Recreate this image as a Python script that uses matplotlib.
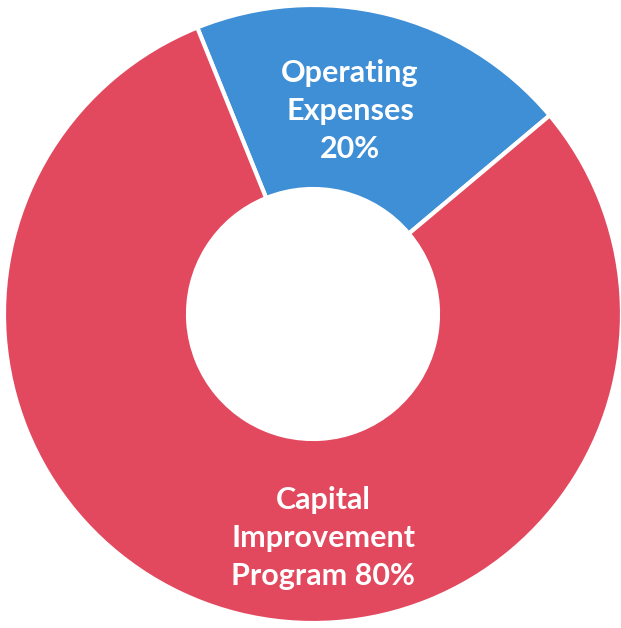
import matplotlib
matplotlib.use("Agg")
import matplotlib.pyplot as plt

# Budget split
labels = ["Operating\nExpenses\n20%", "Capital\nImprovement\nProgram 80%"]
shares = [20, 80]
colors = ["#3F8FD6", "#E2485E"]

W, H = 621, 628
fig = plt.figure(figsize=(W / 100, H / 100), dpi=100)
ax = fig.add_axes([0, 0, 1, 1])

cx, cy = 313, H - 314
outer = 309
hole = 125

ax.pie(shares, colors=colors, startangle=40, counterclock=True,
       center=(cx, cy), radius=outer, frame=True,
       wedgeprops=dict(width=outer - hole, edgecolor="white", linewidth=3))

ax.set_xlim(0, W)
ax.set_ylim(0, H)
ax.set_aspect("equal")
ax.axis("off")

font = dict(family=["Lato", "DejaVu Sans"], fontweight="bold", color="white",
            fontsize=22, ha="center", va="center", linespacing=1.45)
ax.text(350, H - 111, labels[0], **font)
ax.text(323, H - 538, labels[1], **font)

fig.savefig("out.png", dpi=100)
